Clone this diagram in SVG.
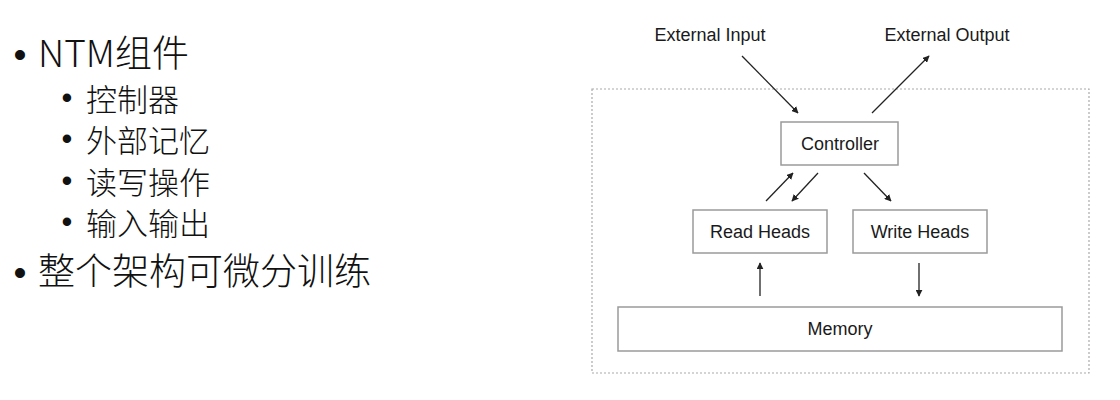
<svg xmlns="http://www.w3.org/2000/svg" width="1120" height="400" viewBox="0 0 1120 400">
<defs>
<style>
.l1{font-family:"Noto Sans CJK SC","Liberation Sans",sans-serif;font-size:37px;font-weight:300;fill:#111}
.l2{font-family:"Noto Sans CJK SC","Liberation Sans",sans-serif;font-size:31px;font-weight:300;fill:#111}
.b1{font-family:"Liberation Sans",sans-serif;font-size:37px;fill:#111;text-anchor:middle}
.b2{font-family:"Liberation Sans",sans-serif;font-size:31px;fill:#111;text-anchor:middle}
.box{fill:#fff;stroke:#9a9a9a;stroke-width:1.5}
.lbl{font-family:"Liberation Sans",Arial,sans-serif;font-size:18px;fill:#1a1a1a;text-anchor:middle}
.frame{fill:none;stroke:#aaa;stroke-width:1.2;stroke-dasharray:2 2}
.edge{stroke:#222;stroke-width:1.3;fill:none;marker-end:url(#ah)}
</style>
<marker id="ah" viewBox="0 0 10 10" refX="9" refY="5" markerWidth="7" markerHeight="7" markerUnits="userSpaceOnUse" orient="auto">
<path d="M0,0 L10,5 L0,10 z" fill="#222"/>
</marker>
</defs>
<rect width="1120" height="400" fill="#fff"/>
<g id="bullets">
<text class="b1" x="20" y="67">•</text>
<text class="l1" x="38" y="67">NTM组件</text>
<text class="b2" x="67" y="108">•</text>
<text class="l2" x="86" y="111">控制器</text>
<text class="b2" x="67" y="149">•</text>
<text class="l2" x="86" y="152">外部记忆</text>
<text class="b2" x="67" y="191">•</text>
<text class="l2" x="86" y="194">读写操作</text>
<text class="b2" x="67" y="232">•</text>
<text class="l2" x="86" y="235">输入输出</text>
<text class="b1" x="20" y="285">•</text>
<text class="l1" x="38" y="285">整个架构可微分训练</text>
</g>
<rect class="frame" x="592" y="89" width="497" height="284"/>
<g id="ext-input"><text class="lbl" x="710" y="41">External Input</text></g>
<g id="ext-output"><text class="lbl" x="947" y="41">External Output</text></g>
<g id="controller"><rect class="box" x="781" y="122" width="117" height="43"/><text class="lbl" x="840" y="150">Controller</text></g>
<g id="read-heads"><rect class="box" x="693" y="210" width="134" height="43"/><text class="lbl" x="760" y="238">Read Heads</text></g>
<g id="write-heads"><rect class="box" x="853" y="210" width="134" height="43"/><text class="lbl" x="920" y="238">Write Heads</text></g>
<g id="memory"><rect class="box" x="618" y="307" width="444" height="44"/><text class="lbl" x="840" y="335">Memory</text></g>
<g id="connectors">
<line class="edge" x1="742" y1="56" x2="798" y2="113"/>
<line class="edge" x1="872" y1="113" x2="929" y2="56"/>
<line class="edge" x1="766" y1="201" x2="793" y2="173"/>
<line class="edge" x1="818" y1="173" x2="792" y2="201"/>
<line class="edge" x1="864" y1="173" x2="891" y2="201"/>
<line class="edge" x1="760" y1="296" x2="760" y2="263"/>
<line class="edge" x1="919" y1="263" x2="919" y2="296"/>
</g>
</svg>
